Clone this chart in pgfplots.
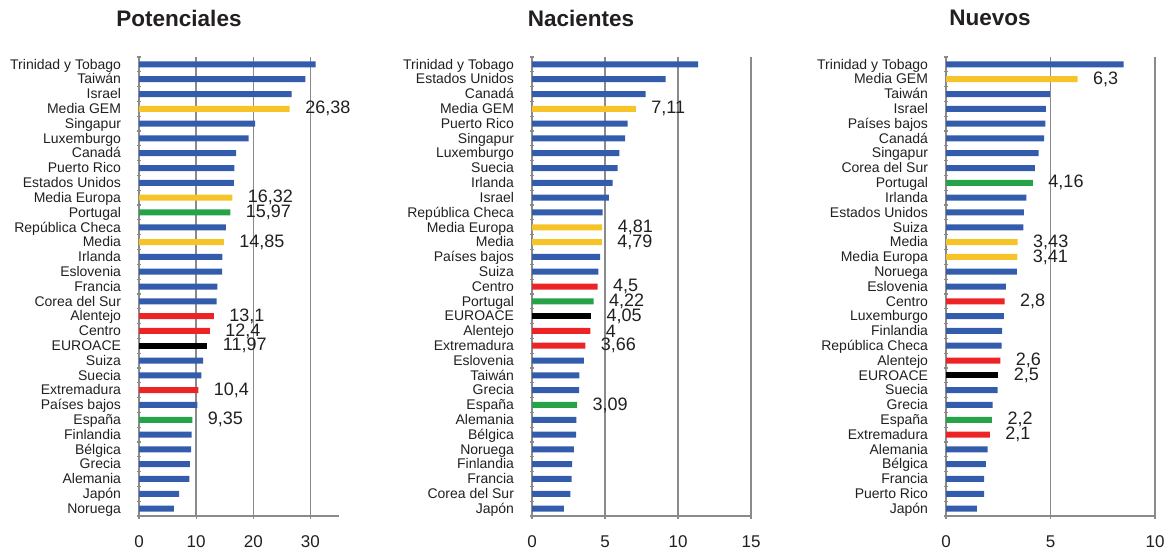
\documentclass[border=0pt]{standalone}
\usepackage{fontspec}
\setmainfont{Liberation Sans}
\usepackage{pgfplots}
\pgfplotsset{compat=1.18}

\definecolor{barB}{RGB}{52,92,172}
\definecolor{barY}{RGB}{246,196,40}
\definecolor{barG}{RGB}{38,163,72}
\definecolor{barR}{RGB}{236,36,38}
\definecolor{barK}{RGB}{0,0,0}
\definecolor{axgray}{RGB}{138,138,138}
\definecolor{txt}{RGB}{35,31,32}

\pgfplotsset{
  panel/.style={
    xbar, bar width=6pt, bar shift=0pt,
    scale only axis, height=459pt,
    y dir=reverse, ymin=-0.5, ymax=30.5,
    ytick={0,...,30},
    minor ytick={-0.5,0.5,...,30.5},
    every major y tick/.style={draw=none},
    minor tick length=4pt, major tick length=5pt,
    tick align=outside,
    axis x line=bottom, axis y line=left,
    axis line style={draw=axgray, line width=1.3pt, -},
    tick style={draw=axgray, line width=1.2pt},
    xmajorgrids, grid style={draw=axgray, line width=1.3pt},
    xmin=0,
    yticklabel style={font=\fontsize{14}{14}\selectfont, text=txt, anchor=east,
      text height=9.5pt, text depth=0pt, xshift=-12pt},
    xticklabel style={font=\fontsize{17}{17}\selectfont, text=txt, yshift=-14pt},
    /pgf/number format/assume math mode=true,
    /pgf/number format/use comma,
    /pgf/number format/fixed,
    /pgf/number format/precision=2,
    /pgf/number format/1000 sep={},
    nodes near coords style={font=\fontsize{18}{18}\selectfont, text=txt, anchor=west, xshift=12pt},
    point meta=x,
    title style={font=\fontsize{22.5}{24}\selectfont\bfseries, text=txt, anchor=center, yshift=33pt},
  },
  lab/.style={draw=none, nodes near coords},
}

\begin{document}
\begin{tikzpicture}
\useasboundingbox (0pt,0pt) rectangle (1170pt,552pt);

% Potenciales
\begin{axis}[panel, at={(139pt,36pt)}, anchor=south west, width=200pt,
  xmax=35, xtick={0,10,20,30},
  title={Potenciales}, title style={at={(axis description cs:0.2,1)}},
  yticklabels={Trinidad y Tobago, Taiwán, Israel, Media GEM, Singapur, Luxemburgo, Canadá, Puerto Rico, Estados Unidos, Media Europa, Portugal, República Checa, Media, Irlanda, Eslovenia, Francia, Corea del Sur, Alentejo, Centro, EUROACE, Suiza, Suecia, Extremadura, Países bajos, España, Finlandia, Bélgica, Grecia, Alemania, Japón, Noruega}]
\addplot[fill=barB, draw=none] coordinates {
  (30.9,0) (29.1,1) (26.7,2) (20.3,4) (19.2,5) (17.0,6) (16.7,7) (16.6,8)
  (15.2,11) (14.6,13) (14.55,14) (13.7,15) (13.6,16) (11.2,20) (10.9,21)
  (10.2,23) (9.2,25) (9.1,26) (8.9,27) (8.8,28) (7.0,29) (6.1,30)};
\addplot[fill=barY, lab] coordinates {(26.38,3) (16.32,9) (14.85,12)};
\addplot[fill=barG, lab] coordinates {(15.97,10) (9.35,24)};
\addplot[fill=barR, lab] coordinates {(13.1,17) (12.4,18) (10.4,22)};
\addplot[fill=barK, lab] coordinates {(11.97,19)};
\end{axis}

% Nacientes
\begin{axis}[panel, at={(532pt,36pt)}, anchor=south west, width=219pt,
  xmax=15, xtick={0,5,10,15},
  title={Nacientes}, title style={at={(axis description cs:0.224,1)}},
  yticklabels={Trinidad y Tobago, Estados Unidos, Canadá, Media GEM, Puerto Rico, Singapur, Luxemburgo, Suecia, Irlanda, Israel, República Checa, Media Europa, Media, Países bajos, Suiza, Centro, Portugal, EUROACE, Alentejo, Extremadura, Eslovenia, Taiwán, Grecia, España, Alemania, Bélgica, Noruega, Finlandia, Francia, Corea del Sur, Japón}]
\addplot[fill=barB, draw=none] coordinates {
  (11.37,0) (9.16,1) (7.79,2) (6.55,4) (6.37,5) (5.98,6) (5.87,7) (5.53,8)
  (5.27,9) (4.84,10) (4.66,13) (4.55,14) (3.56,20) (3.25,21) (3.23,22)
  (3.04,24) (3.03,25) (2.86,26) (2.74,27) (2.72,28) (2.63,29) (2.19,30)};
\addplot[fill=barY, lab] coordinates {(7.11,3) (4.81,11) (4.79,12)};
\addplot[fill=barG, lab] coordinates {(4.22,16) (3.09,23)};
\addplot[fill=barR, lab] coordinates {(4.5,15) (4,18) (3.66,19)};
\addplot[fill=barK, lab] coordinates {(4.05,17)};
\end{axis}

% Nuevos
\begin{axis}[panel, at={(946pt,36pt)}, anchor=south west, width=209pt,
  xmax=10, xtick={0,5,10},
  title={Nuevos}, title style={at={(axis description cs:0.21,1)}},
  yticklabels={Trinidad y Tobago, Media GEM, Taiwán, Israel, Países bajos, Canadá, Singapur, Corea del Sur, Portugal, Irlanda, Estados Unidos, Suiza, Media, Media Europa, Noruega, Eslovenia, Centro, Luxemburgo, Finlandia, República Checa, Alentejo, EUROACE, Suecia, Grecia, España, Extremadura, Alemania, Bélgica, Francia, Puerto Rico, Japón}]
\addplot[fill=barB, draw=none] coordinates {
  (8.5,0) (4.97,2) (4.78,3) (4.76,4) (4.70,5) (4.43,6) (4.25,7) (3.84,9)
  (3.73,10) (3.70,11) (3.39,14) (2.87,15) (2.77,17) (2.68,18) (2.66,19)
  (2.47,22) (2.23,23) (1.99,26) (1.91,27) (1.82,28) (1.82,29) (1.48,30)};
\addplot[fill=barY, lab] coordinates {(6.3,1) (3.43,12) (3.41,13)};
\addplot[fill=barG, lab] coordinates {(4.16,8) (2.2,24)};
\addplot[fill=barR, lab] coordinates {(2.8,16) (2.6,20) (2.1,25)};
\addplot[fill=barK, lab] coordinates {(2.5,21)};
\end{axis}
\end{tikzpicture}
\end{document}
